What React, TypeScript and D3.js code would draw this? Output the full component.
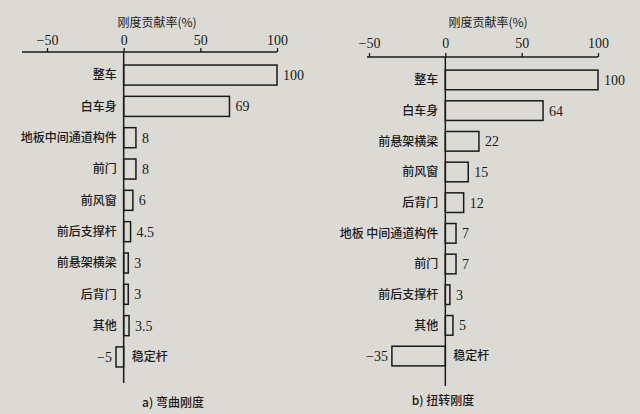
import { useEffect, useRef } from "react";
import * as d3 from "d3";

const BENDING_CATEGORIES = [
  "整车",
  "白车身",
  "地板中间通道构件",
  "前门",
  "前风窗",
  "前后支撑杆",
  "前悬架横梁",
  "后背门",
  "其他",
  "稳定杆",
];
const BENDING_VALUES = [100, 69, 8, 8, 6, 4.5, 3, 3, 3.5, -5];

const TORSION_CATEGORIES = [
  "整车",
  "白车身",
  "前悬架横梁",
  "前风窗",
  "后背门",
  "地板 中间通道构件",
  "前门",
  "前后支撑杆",
  "其他",
  "稳定杆",
];
const TORSION_VALUES = [100, 64, 22, 15, 12, 7, 7, 3, 5, -35];

const AXIS_TICKS = [-50, 0, 50, 100];
const AXIS_TITLE = "刚度贡献率(%)";

const WIDTH = 640;
const HEIGHT = 414;
const INK = "#1a1a1a";
const CJK = "'Noto Sans CJK SC', sans-serif";
const NUM = "'Liberation Serif', 'DejaVu Serif', serif";

type Panel = {
  categories: string[];
  values: number[];
  caption: string;
  xRange: [number, number];
  lineStart: number;
  axisY: number;
  bandRange: [number, number];
  lineBottom: number;
  titleX: number;
  titleY: number;
  captionX: number;
  captionY: number;
  tickPad: number;
};

const PANELS: Panel[] = [
  {
    categories: BENDING_CATEGORIES,
    values: BENDING_VALUES,
    caption: "a) 弯曲刚度",
    xRange: [47, 277],
    lineStart: 22,
    axisY: 52,
    bandRange: [59.4, 372.6],
    lineBottom: 383,
    titleX: 157,
    titleY: 27,
    captionX: 173,
    captionY: 407,
    tickPad: 3,
  },
  {
    categories: TORSION_CATEGORIES,
    values: TORSION_VALUES,
    caption: "b) 扭转刚度",
    xRange: [369, 598],
    lineStart: 367,
    axisY: 57,
    bandRange: [64.6, 371.4],
    lineBottom: 386,
    titleX: 488,
    titleY: 27,
    captionX: 443,
    captionY: 405,
    tickPad: 5,
  },
];

const App = () => {
  const svgRef = useRef<SVGSVGElement | null>(null);

  const drawPanel = (root: d3.Selection<SVGGElement, unknown, null, undefined>, p: Panel) => {
    const g = root.append("g");
    const x = d3.scaleLinear().domain([-50, 100]).range(p.xRange);
    const y = d3
      .scaleBand()
      .domain(p.categories)
      .range(p.bandRange)
      .paddingInner(0.36)
      .paddingOuter(0.18);

    // title
    g.append("text")
      .attr("x", p.titleX)
      .attr("y", p.titleY)
      .attr("text-anchor", "middle")
      .style("font-family", CJK)
      .style("font-size", "12px")
      .attr("fill", INK)
      .text(AXIS_TITLE);

    // top axis, ticks pointing up
    const axis = g
      .append("g")
      .attr("transform", `translate(0, ${p.axisY})`)
      .call(
        d3
          .axisTop(x)
          .tickValues(AXIS_TICKS)
          .tickSize(4)
          .tickPadding(p.tickPad)
          .tickFormat((d) => ((d as number) < 0 ? "\u2212" + Math.abs(d as number) : String(d)))
      );
    axis.select(".domain").remove();
    axis.selectAll("line").attr("stroke", INK).attr("stroke-width", 1.3);
    axis
      .selectAll("text")
      .style("font-family", NUM)
      .style("font-size", "14px")
      .attr("fill", INK);
    g.append("line")
      .attr("x1", p.lineStart)
      .attr("x2", x(100))
      .attr("y1", p.axisY)
      .attr("y2", p.axisY)
      .attr("stroke", INK)
      .attr("stroke-width", 1.5);

    const data = p.categories.map((c, i) => ({ c, v: p.values[i] }));

    // bars (hollow)
    g.selectAll("rect.bar")
      .data(data)
      .join("rect")
      .attr("class", "bar")
      .attr("x", (d) => Math.min(x(0), x(d.v)))
      .attr("y", (d) => y(d.c)!)
      .attr("width", (d) => Math.abs(x(d.v) - x(0)))
      .attr("height", y.bandwidth())
      .attr("fill", "none")
      .attr("stroke", INK)
      .attr("stroke-width", 1.5);

    // zero line
    g.append("line")
      .attr("x1", x(0))
      .attr("x2", x(0))
      .attr("y1", p.axisY)
      .attr("y2", p.lineBottom)
      .attr("stroke", INK)
      .attr("stroke-width", 1.5);

    // category labels
    g.selectAll("text.cat")
      .data(data)
      .join("text")
      .attr("class", "cat")
      .attr("x", (d) => (d.v < 0 ? x(0) + 8 : x(0) - 7))
      .attr("y", (d) => y(d.c)! + y.bandwidth() / 2)
      .attr("dy", "0.36em")
      .attr("text-anchor", (d) => (d.v < 0 ? "start" : "end"))
      .style("font-family", CJK)
      .style("font-weight", "500")
      .style("font-size", "12px")
      .attr("fill", INK)
      .text((d) => d.c);

    // value labels
    g.selectAll("text.val")
      .data(data)
      .join("text")
      .attr("class", "val")
      .attr("x", (d) => (d.v < 0 ? x(d.v) - 4 : x(d.v) + 6))
      .attr("y", (d) => y(d.c)! + y.bandwidth() / 2)
      .attr("dy", "0.36em")
      .attr("text-anchor", (d) => (d.v < 0 ? "end" : "start"))
      .style("font-family", NUM)
      .style("font-size", "14px")
      .attr("fill", INK)
      .text((d) => (d.v < 0 ? "\u2212" + Math.abs(d.v) : String(d.v)));

    // caption
    g.append("text")
      .attr("x", p.captionX)
      .attr("y", p.captionY)
      .attr("text-anchor", "middle")
      .style("font-family", CJK)
      .style("font-weight", "500")
      .style("font-size", "12px")
      .attr("fill", INK)
      .text(p.caption);
  };

  useEffect(() => {
    const svg = d3.select(svgRef.current);
    svg.selectAll("*").remove();
    svg
      .append("rect")
      .attr("width", WIDTH)
      .attr("height", HEIGHT)
      .attr("fill", "#dcdad5");
    const root = svg.append("g");
    PANELS.forEach((p) => drawPanel(root, p));
  }, []);

  return (
    <svg
      ref={svgRef}
      width={WIDTH}
      height={HEIGHT}
      style={{ position: "absolute", left: 0, top: 0, display: "block" }}
    />
  );
};

export default App;
